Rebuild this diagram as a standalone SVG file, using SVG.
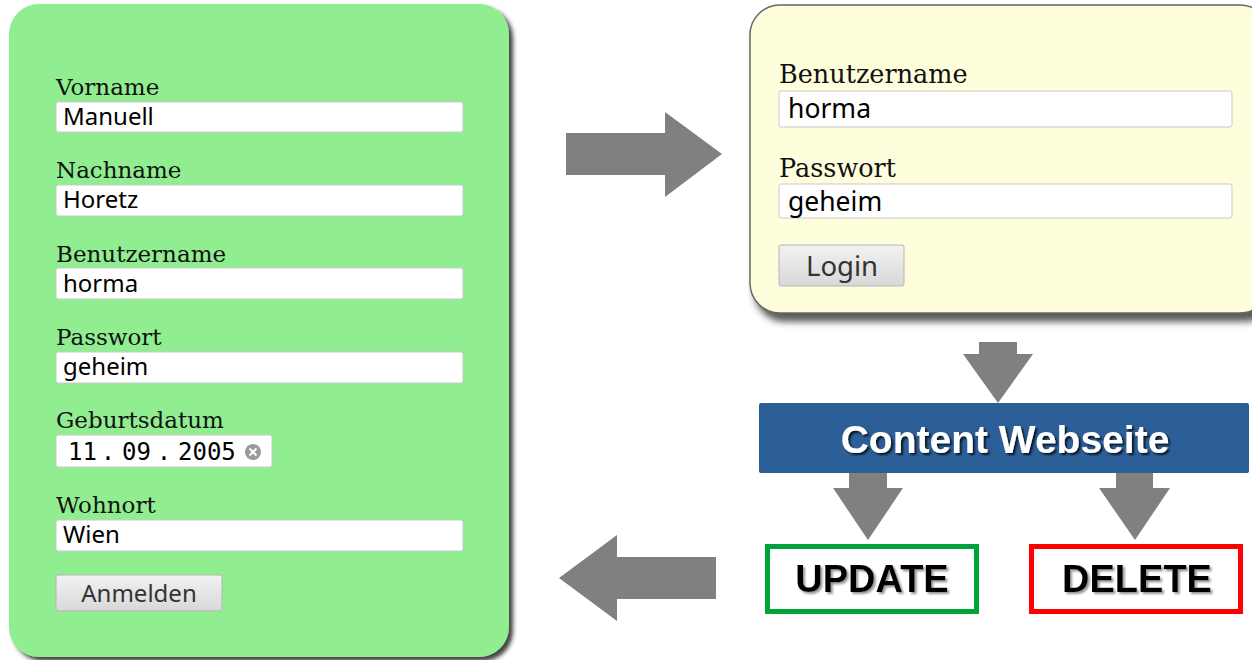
<svg xmlns="http://www.w3.org/2000/svg" width="1252" height="660" viewBox="0 0 1252 660">
<defs>
<filter id="sh1" x="-5%" y="-5%" width="115%" height="115%"><feDropShadow dx="4" dy="4" stdDeviation="2" flood-color="#222" flood-opacity="0.85"/></filter>
<filter id="sh2" x="-5%" y="-5%" width="115%" height="125%"><feDropShadow dx="5" dy="8" stdDeviation="3.5" flood-color="#333" flood-opacity="0.8"/></filter>
<filter id="tsh" x="-5%" y="-20%" width="115%" height="150%"><feDropShadow dx="2" dy="2" stdDeviation="0.8" flood-color="#000" flood-opacity="0.8"/></filter>
<filter id="tsh2" x="-5%" y="-20%" width="115%" height="150%"><feDropShadow dx="2" dy="2" stdDeviation="0.8" flood-color="#888" flood-opacity="0.9"/></filter>
<linearGradient id="btn" x1="0" y1="0" x2="0" y2="1"><stop offset="0" stop-color="#f2f2f2"/><stop offset="1" stop-color="#d8d8d8"/></linearGradient>
</defs>
<style>
.lbl{font-family:"DejaVu Serif",serif;font-size:23px;fill:#111}
.lbl2{font-family:"DejaVu Serif",serif;font-size:25.5px;fill:#111}
.inp{fill:#fff;stroke:#c8c8c8;stroke-width:1}
.val{font-family:"Noto Sans","DejaVu Sans",sans-serif;font-size:24px;fill:#000}
.val2{font-family:"Noto Sans","DejaVu Sans",sans-serif;font-size:26.5px;fill:#000}
.mono{font-family:"DejaVu Sans Mono",monospace;font-size:24px;fill:#000}
.btn{fill:url(#btn);stroke:#b5b5b5;stroke-width:1}
.btnt{font-family:"Noto Sans","DejaVu Sans",sans-serif;fill:#333;text-anchor:middle}
.arr{fill:#808080}
.big{font-family:"Liberation Sans",Arial,sans-serif;font-weight:bold;text-anchor:middle}
</style>

<g id="register-form">
<rect x="9" y="4" width="500" height="653" rx="30" fill="#90ee90" filter="url(#sh1)"/>
<text class="lbl" x="56" y="95">Vorname</text>
<rect class="inp" x="56" y="102" width="407" height="30" rx="2"/>
<text class="val" x="63" y="125">Manuell</text>
<text class="lbl" x="56" y="178">Nachname</text>
<rect class="inp" x="56" y="185" width="407" height="31" rx="2"/>
<text class="val" x="63" y="208">Horetz</text>
<text class="lbl" x="56" y="262">Benutzername</text>
<rect class="inp" x="56" y="268" width="407" height="31" rx="2"/>
<text class="val" x="63" y="292">horma</text>
<text class="lbl" x="56" y="345">Passwort</text>
<rect class="inp" x="56" y="352" width="407" height="31" rx="2"/>
<text class="val" x="63" y="375">geheim</text>
<text class="lbl" x="56" y="428">Geburtsdatum</text>
<rect class="inp" x="56" y="435" width="216" height="32" rx="2"/>
<text class="mono" x="68" y="460">11</text>
<text class="mono" x="108" y="460" text-anchor="middle">.</text>
<text class="mono" x="122" y="460">09</text>
<text class="mono" x="164" y="460" text-anchor="middle">.</text>
<text class="mono" x="178" y="460">2005</text>
<circle cx="253" cy="452" r="8" fill="#9a9a9a"/>
<path d="M249.5 448.5 L256.5 455.5 M256.5 448.5 L249.5 455.5" stroke="#fff" stroke-width="2"/>
<text class="lbl" x="56" y="513">Wohnort</text>
<rect class="inp" x="56" y="520" width="407" height="31" rx="2"/>
<text class="val" x="63" y="543">Wien</text>
<rect class="btn" x="56" y="575" width="166" height="36" rx="2"/>
<text class="btnt" x="139" y="602" font-size="24">Anmelden</text>
</g>

<g id="login-form">
<rect x="750" y="5" width="520" height="308" rx="30" fill="#fffedc" stroke="#666" stroke-width="1.5" filter="url(#sh2)"/>
<text class="lbl2" x="779" y="83">Benutzername</text>
<rect class="inp" x="779" y="91" width="453" height="36" rx="2"/>
<text class="val2" x="788" y="118">horma</text>
<text class="lbl2" x="779" y="177">Passwort</text>
<rect class="inp" x="779" y="184" width="453" height="34" rx="2"/>
<text class="val2" x="788" y="211">geheim</text>
<rect class="btn" x="779" y="245" width="125" height="41" rx="2"/>
<text class="btnt" x="842" y="276" font-size="27.5">Login</text>
</g>

<g id="content">
<rect x="759" y="403" width="490" height="70" rx="2" fill="#2c5f98"/>
<text class="big" x="1005" y="453" font-size="39" fill="#fff" filter="url(#tsh)">Content Webseite</text>
</g>

<g id="update">
<rect x="767.5" y="546.5" width="209" height="65" fill="#fff" stroke="#00a33a" stroke-width="5"/>
<text class="big" x="872" y="592" font-size="38" fill="#000" filter="url(#tsh2)">UPDATE</text>
</g>

<g id="delete">
<rect x="1031.5" y="546.5" width="209" height="65" fill="#fff" stroke="#ff0000" stroke-width="5"/>
<text class="big" x="1137" y="592" font-size="38" fill="#000" filter="url(#tsh2)">DELETE</text>
</g>

<g id="connectors">
<polygon class="arr" points="566,133 665,133 665,112 722,154 665,197 665,175 566,175"/>
<polygon class="arr" points="979,342 1017,342 1017,354 1033,354 998,403 963,354 979,354"/>
<polygon class="arr" points="849,473 887,473 887,488 903,488 868,540 833,488 849,488"/>
<polygon class="arr" points="1116,473 1153,473 1153,488 1170,488 1135,540 1099,488 1116,488"/>
<polygon class="arr" points="716,557 617,557 617,535 559,578 617,621 617,599 716,599"/>
</g>
</svg>
